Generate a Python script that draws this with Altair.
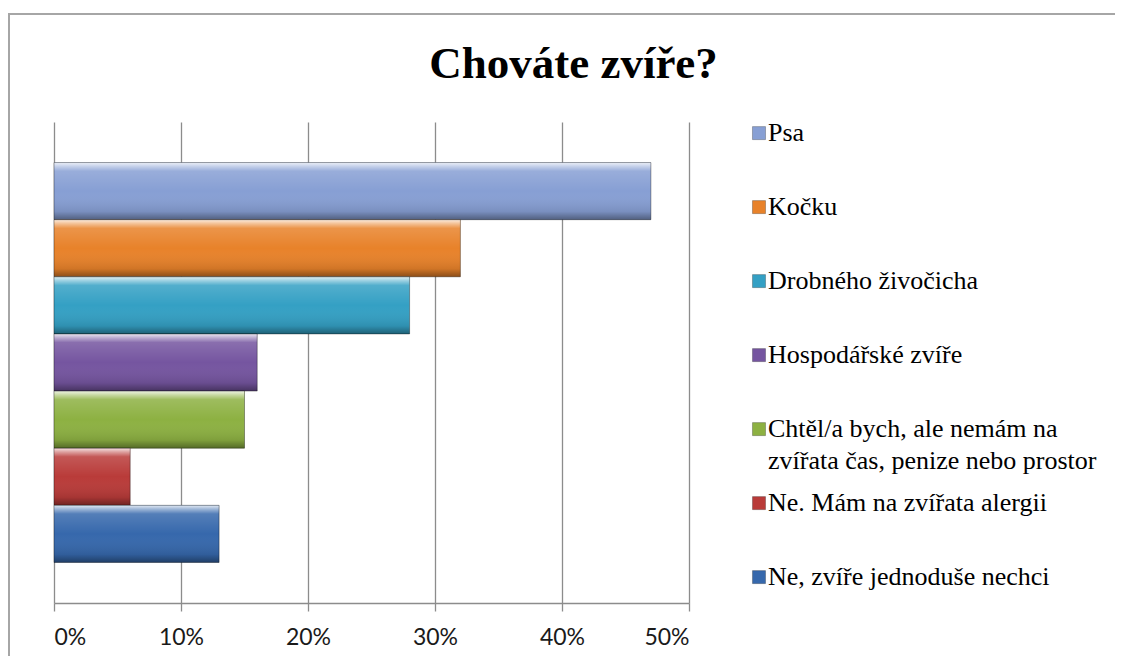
import altair as alt
import pandas as pd

title_text = ["Chováte zvíře?"]
categories = [
    "Psa",
    "Kočku",
    "Drobného živočicha",
    "Hospodářské zvíře",
    "Chtěl/a bych, ale nemám na zvířata čas, penize nebo prostor",
    "Ne. Mám na zvířata alergii",
    "Ne, zvíře jednoduše nechci",
]
legend_labels = [
    "Psa",
    "Kočku",
    "Drobného živočicha",
    "Hospodářské zvíře",
    "Chtěl/a bych, ale nemám na\nzvířata čas, penize nebo prostor",
    "Ne. Mám na zvířata alergii",
    "Ne, zvíře jednoduše nechci",
]
values = [0.47, 0.32, 0.28, 0.16, 0.15, 0.06, 0.13]
colors = ["#879FD4", "#E8822A", "#34A0C4", "#7555A0", "#8DB142", "#B93B39", "#3668AC"]
tick_values = [0, 0.1, 0.2, 0.3, 0.4, 0.5]

serif = "'Liberation Serif', 'DejaVu Serif', 'Times New Roman', serif"

df = pd.DataFrame({"kategorie": categories, "podil": values, "popisek": legend_labels})
one = pd.DataFrame({"t": title_text})

color_enc = alt.Color("kategorie:N", scale=alt.Scale(domain=categories, range=colors), legend=None)

gray = "#8c8c8c"
x_enc = alt.X(
    "podil:Q",
    scale=alt.Scale(domain=[0, 0.5], nice=False),
    axis=alt.Axis(
        values=tick_values, format="%", grid=True, gridColor=gray, gridWidth=1.3,
        domainColor=gray, domainWidth=1.3, tickColor=gray, tickWidth=1.3, tickSize=8,
        labelFont="Lato", labelFontSize=23, labelColor="#1a1a1a", labelPadding=15,
        title=None,
    ),
)
y_bar = alt.Y("kategorie:N", sort=categories, axis=None,
              scale=alt.Scale(paddingInner=0, paddingOuter=0.71))

base = alt.Chart(df).mark_bar().encode(x=x_enc, y=y_bar, color=color_enc)

shine = {
    "gradient": "linear", "x1": 0, "x2": 0, "y1": 0, "y2": 1,
    "stops": [
        {"offset": 0, "color": "rgba(255,255,255,0.85)"},
        {"offset": 0.07, "color": "rgba(255,255,255,0.5)"},
        {"offset": 0.15, "color": "rgba(255,255,255,0.15)"},
        {"offset": 0.5, "color": "rgba(255,255,255,0)"},
        {"offset": 0.86, "color": "rgba(0,0,0,0.1)"},
        {"offset": 1, "color": "rgba(0,0,0,0.4)"},
    ],
}
overlay = alt.Chart(df).mark_bar(fill=shine, stroke="rgba(0,0,0,0.35)", strokeWidth=1).encode(
    x="podil:Q", y=alt.Y("kategorie:N", sort=categories)
)
bars = alt.layer(base, overlay)

y_leg = alt.Y("kategorie:N", sort=categories, axis=None,
              scale=alt.Scale(type="point", padding=0.25, align=0.3))
sym = alt.Chart(df).mark_point(shape="square", filled=True, size=170, opacity=1,
                               stroke="rgba(0,0,0,0.25)", strokeWidth=1).encode(
    x=alt.value(705), y=y_leg, color=color_enc
)
txt = alt.Chart(df).mark_text(
    align="left", baseline="line-top", lineHeight=32, dy=-16, lineBreak="\n",
    font=serif, fontSize=26, color="#000000",
).encode(x=alt.value(714), y=y_leg, text="popisek:N")
legend = alt.layer(sym, txt)

border = alt.Chart(one).mark_rect(fill="white", fillOpacity=0, stroke="#a6a6a6", strokeWidth=2).encode(
    x=alt.value(-45), x2=alt.value(1075), y=alt.value(-108), y2=alt.value(560)
)
title = alt.Chart(one).mark_text(
    font=serif, fontSize=45, fontWeight="bold", align="center",
    baseline="alphabetic", color="#000000",
).encode(text="t:N", x=alt.value(519.5), y=alt.value(-44))

chart = (
    alt.layer(border, bars, legend, title)
    .resolve_scale(y="independent")
    .properties(
        width=635, height=481,
        autosize=alt.AutoSizeParams(type="none"),
        padding={"left": 46, "top": 114, "right": 426, "bottom": 53},
        background="white",
    )
    .configure_view(stroke="transparent")
)

chart.save("out.html", embed_options={"renderer": "svg", "actions": False})
